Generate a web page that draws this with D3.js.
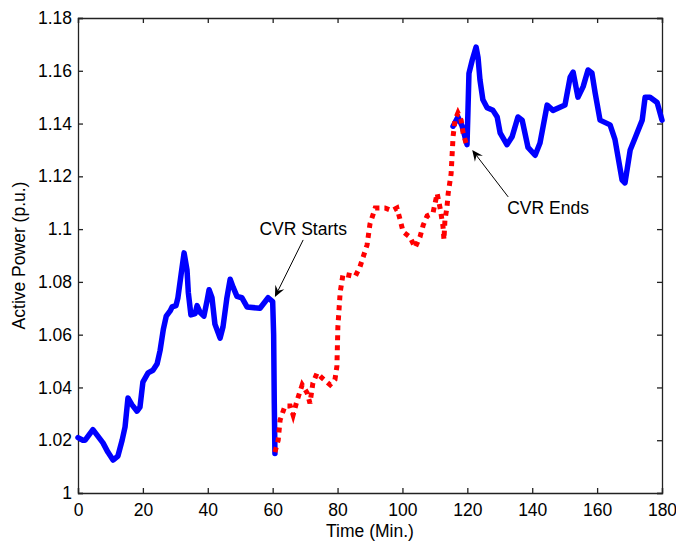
<!DOCTYPE html>
<html>
<head>
<meta charset="utf-8">
<script src="https://cdn.jsdelivr.net/npm/d3@7"></script>
<style>
  body { margin: 0; background: #fff; }
  svg { display: block; }
</style>
</head>
<body>
<div id="chart"></div>
<script>
// data: time in minutes, active power in p.u.
const beforeTime = [0, 1.5, 2.2, 4.6, 7.7, 9.2, 10.8, 12.3, 13.6, 14.5, 15.4, 16.6, 18.2, 19.1, 20.0, 21.6, 23.1, 24.4, 25.3, 26.3, 27.2, 28.4, 29.0, 30.2, 30.8, 31.8, 32.7, 33.6, 34.0, 34.8, 36.1, 36.7, 37.6, 38.8, 39.8, 40.4, 41.3, 42.2, 43.8, 44.7, 45.9, 46.9, 47.8, 49.0, 50.5, 52.1, 56.1, 58.6, 60.0, 60.3, 60.5, 60.7];
const beforePower = [1.021, 1.020, 1.020, 1.024, 1.019, 1.0155, 1.0125, 1.014, 1.020, 1.025, 1.036, 1.0335, 1.031, 1.0325, 1.042, 1.0455, 1.0465, 1.049, 1.054, 1.062, 1.067, 1.069, 1.0705, 1.071, 1.074, 1.083, 1.091, 1.0845, 1.076, 1.0675, 1.068, 1.071, 1.0685, 1.067, 1.073, 1.077, 1.074, 1.064, 1.0587, 1.063, 1.074, 1.081, 1.078, 1.0745, 1.074, 1.0705, 1.070, 1.074, 1.0725, 1.060, 1.034, 1.015];

const cvrTime = [60.7, 61.7, 62.3, 63.8, 65.4, 66.3, 67.5, 69.1, 70.6, 71.5, 72.4, 73.7, 75.2, 77.7, 79.2, 79.8, 80.1, 80.8, 81.7, 83.2, 85.4, 86.9, 89.1, 90.0, 91.6, 94.6, 96.8, 98.3, 99.3, 100.2, 102.3, 103.9, 105.4, 106.4, 107.6, 109.4, 110.7, 111.6, 112.5, 112.8, 113.1, 113.7, 114.1, 115.0, 115.6, 116.2, 117.1, 118.1, 118.7, 119.6];
const cvrPower = [1.0155, 1.020, 1.0277, 1.033, 1.033, 1.0295, 1.035, 1.041, 1.038, 1.034, 1.0417, 1.0455, 1.0436, 1.041, 1.043, 1.048, 1.063, 1.076, 1.083, 1.0826, 1.082, 1.0857, 1.094, 1.102, 1.108, 1.108, 1.107, 1.108, 1.1035, 1.099, 1.097, 1.093, 1.097, 1.1015, 1.105, 1.106, 1.1135, 1.108, 1.101, 1.096, 1.1035, 1.108, 1.1135, 1.121, 1.135, 1.1413, 1.144, 1.1413, 1.1364, 1.1326];

const afterTime = [115.6, 117.1, 118.4, 119.9, 120.2, 120.5, 121.5, 122.7, 123.3, 123.9, 124.8, 126.1, 127.9, 129.2, 130.1, 132.2, 133.8, 135.6, 136.9, 138.7, 140.9, 142.4, 144.6, 146.4, 150.1, 151.7, 152.6, 154.1, 155.7, 157.2, 158.4, 159.4, 160.9, 164.0, 165.5, 167.7, 168.6, 170.2, 171.7, 173.9, 174.8, 176.3, 178.5, 180];
const afterPower = [1.139, 1.1425, 1.139, 1.132, 1.145, 1.159, 1.164, 1.169, 1.165, 1.1565, 1.149, 1.146, 1.145, 1.1425, 1.1365, 1.132, 1.135, 1.1425, 1.1413, 1.131, 1.128, 1.1326, 1.147, 1.145, 1.147, 1.1576, 1.1595, 1.150, 1.154, 1.1603, 1.1592, 1.1516, 1.1413, 1.1395, 1.134, 1.1186, 1.1175, 1.130, 1.1345, 1.1413, 1.150, 1.150, 1.148, 1.1413];

const xTicks = [0, 20, 40, 60, 80, 100, 120, 140, 160, 180];
const yTicks = [1, 1.02, 1.04, 1.06, 1.08, 1.1, 1.12, 1.14, 1.16, 1.18];

// annotations: [label, arrow tip time, tip power, tail time, tail power, text time, text power, anchor]
const notes = [
  ["CVR Starts", 60.7, 1.0743, 69.4, 1.0959, 69.4, 1.0976, "middle"],
  ["CVR Ends", 121.5, 1.130, 132.6, 1.1122, 132.3, 1.1057, "start"]
];

const width = 676, height = 544;
const margin = {top: 18, right: 14, bottom: 51, left: 78};
const innerW = width - margin.left - margin.right;
const innerH = height - margin.top - margin.bottom;
const font = "'Liberation Sans', Arial, sans-serif";
const fontSize = "17.5px";

const x = d3.scaleLinear().domain([0, 180]).range([0, innerW]);
const y = d3.scaleLinear().domain([1, 1.18]).range([innerH, 0]);

const svg = d3.select("#chart").append("svg")
  .attr("width", width)
  .attr("height", height)
  .style("font-family", font);

const g = svg.append("g")
  .attr("transform", `translate(${margin.left},${margin.top})`);

// matlab style box with inward ticks on all sides
const fmt = d => String(+d.toFixed(2));
const tickLen = 5;

const xAxis = g.append("g")
  .attr("transform", `translate(0,${innerH})`)
  .call(d3.axisBottom(x).tickValues(xTicks).tickSize(-tickLen).tickPadding(11).tickFormat(fmt));
const xTop = g.append("g")
  .call(d3.axisTop(x).tickValues(xTicks).tickSize(-tickLen).tickFormat(""));
const yAxis = g.append("g")
  .call(d3.axisLeft(y).tickValues(yTicks).tickSize(-tickLen).tickPadding(6).tickFormat(fmt));
const yRight = g.append("g")
  .attr("transform", `translate(${innerW},0)`)
  .call(d3.axisRight(y).tickValues(yTicks).tickSize(-tickLen).tickFormat(""));

[xAxis, xTop, yAxis, yRight].forEach(a => {
  a.selectAll("path").attr("stroke", "#222").attr("stroke-width", 1.3);
  a.selectAll("line").attr("stroke", "#222").attr("stroke-width", 1.3);
  a.selectAll("text")
    .style("font-family", font)
    .style("font-size", fontSize)
    .attr("fill", "#000");
});

const line = d3.line()
  .x(d => x(d[0]))
  .y(d => y(d[1]));

g.append("path")
  .datum(beforeTime.map((t, i) => [t, beforePower[i]]))
  .attr("d", line)
  .attr("fill", "none")
  .attr("stroke", "#0000ff")
  .attr("stroke-width", 5.5)
  .attr("stroke-linejoin", "round")
  .attr("stroke-linecap", "round");

g.append("path")
  .datum(afterTime.map((t, i) => [t, afterPower[i]]))
  .attr("d", line)
  .attr("fill", "none")
  .attr("stroke", "#0000ff")
  .attr("stroke-width", 5.5)
  .attr("stroke-linejoin", "round")
  .attr("stroke-linecap", "round");

g.append("path")
  .datum(cvrTime.map((t, i) => [t, cvrPower[i]]))
  .attr("d", line)
  .attr("fill", "none")
  .attr("stroke", "#ff0000")
  .attr("stroke-width", 5)
  .attr("stroke-dasharray", "5,5");

// annotation arrows
notes.forEach(n => {
  const [label, tx, ty, sx, sy, lx, ly, anchor] = n;
  const x1 = x(sx), y1 = y(sy), x2 = x(tx), y2 = y(ty);
  const ang = Math.atan2(y2 - y1, x2 - x1);
  const headLen = 11, headW = 5, notch = 7;
  const bx = x2 - headLen * Math.cos(ang), by = y2 - headLen * Math.sin(ang);
  const nx = x2 - notch * Math.cos(ang), ny = y2 - notch * Math.sin(ang);
  const px = -Math.sin(ang), py = Math.cos(ang);
  g.append("line")
    .attr("x1", x1).attr("y1", y1)
    .attr("x2", nx).attr("y2", ny)
    .attr("stroke", "#000")
    .attr("stroke-width", 1);
  g.append("path")
    .attr("d", `M${x2},${y2}L${bx + px * headW},${by + py * headW}L${nx},${ny}L${bx - px * headW},${by - py * headW}Z`)
    .attr("fill", "#000");
  g.append("text")
    .attr("x", x(lx))
    .attr("y", y(ly))
    .attr("text-anchor", anchor)
    .style("font-size", fontSize)
    .text(label);
});

svg.append("text")
  .attr("x", margin.left + innerW / 2)
  .attr("y", 537)
  .attr("text-anchor", "middle")
  .style("font-size", fontSize)
  .text("Time (Min.)");

svg.append("text")
  .attr("transform", `translate(25,${margin.top + innerH / 2}) rotate(-90)`)
  .attr("text-anchor", "middle")
  .style("font-size", fontSize)
  .text("Active Power (p.u.)");
</script>
</body>
</html>
